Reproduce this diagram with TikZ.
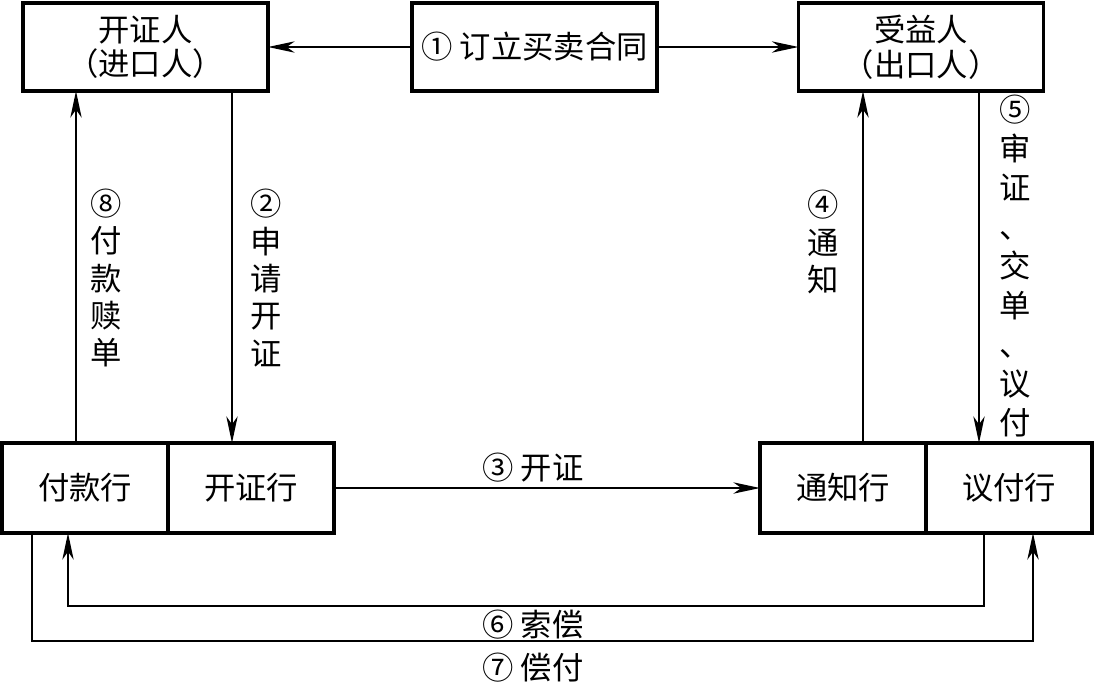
\documentclass[tikz,border=0pt]{standalone}
\usepackage{fontspec}
\setmainfont{Noto Sans CJK SC}
\usetikzlibrary{arrows.meta,positioning}
\definecolor{strich}{gray}{0}

\begin{document}
\begin{tikzpicture}[x=0.75pt,y=-0.75pt,
    kasten/.style={draw=strich,line width=2.4pt,outer sep=0pt,align=center,font=\fontsize{23.5}{26}\selectfont},
    oben/.style={kasten,minimum width=183.75pt,minimum height=66pt},
    bank/.style={kasten,minimum width=124.5pt,minimum height=67.5pt},
    pfeil/.style={color=strich,line width=1.2pt,-{Stealth[length=20pt,width=8.5pt,inset=6pt]}},
    schrift/.style={align=center,inner sep=0pt,font=\fontsize{23.5}{28}\selectfont}]
    \useasboundingbox (0,0) rectangle (1095,683);
    % Parteien
    \node[oben] (issuer) at (145.5,47) {开证人\\（进口人）};
    \node[oben] (contract) at (534.5,47) {① 订立买卖合同};
    \node[oben] (benef) at (921,47) {受益人\\（出口人）};
    % Banken
    \node[bank] (payb) at (85,488) {付款行};
    \node[bank,right=0pt of payb] (issb) {开证行};
    \node[bank] (advb) at (843,488) {通知行};
    \node[bank,right=0pt of advb] (negb) {议付行};
    % Hilfspunkte
    \coordinate (x8) at (76,0);
    \coordinate (x2) at (232,0);
    \coordinate (x4) at (863,0);
    \coordinate (x5) at (979,0);
    \coordinate (s6) at (984,606);
    \coordinate (e6) at (68,606);
    \coordinate (s7) at (32,641);
    \coordinate (e7) at (1033,641);
    % Pfeile
    \draw[pfeil] (contract.west) -- (issuer.east);
    \draw[pfeil] (contract.east) -- (benef.west);
    \draw[pfeil] (issuer.south -| x2) -- (issb.north -| x2);
    \draw[pfeil] (issb.east) -- (advb.west);
    \draw[pfeil] (advb.north -| x4) -- (benef.south -| x4);
    \draw[pfeil] (benef.south -| x5) -- (negb.north -| x5);
    \draw[pfeil] (negb.south -| s6) -- (s6) -- (e6) -- (payb.south -| e6);
    \draw[pfeil] (payb.south -| s7) -- (s7) -- (e7) -- (negb.south -| e7);
    \draw[pfeil] (payb.north -| x8) -- (issuer.south -| x8);
    % Beschriftung
    \node[schrift] (l2) at (266,278) {②\\申\\请\\开\\证};
    \node[schrift] (l3) at (533,468) {③ 开证};
    \node[schrift] (l4) at (823,242) {④\\通\\知};
    \node[schrift,font=\fontsize{23.5}{29.3}\selectfont] (l5) at (1015,266) {⑤\\审\\证\\、\\交\\单\\、\\议\\付};
    \node[schrift] (l6) at (533,625) {⑥ 索偿};
    \node[schrift] (l7) at (533,668) {⑦ 偿付};
    \node[schrift] (l8) at (106,278) {⑧\\付\\款\\赎\\单};
\end{tikzpicture}
\end{document}
